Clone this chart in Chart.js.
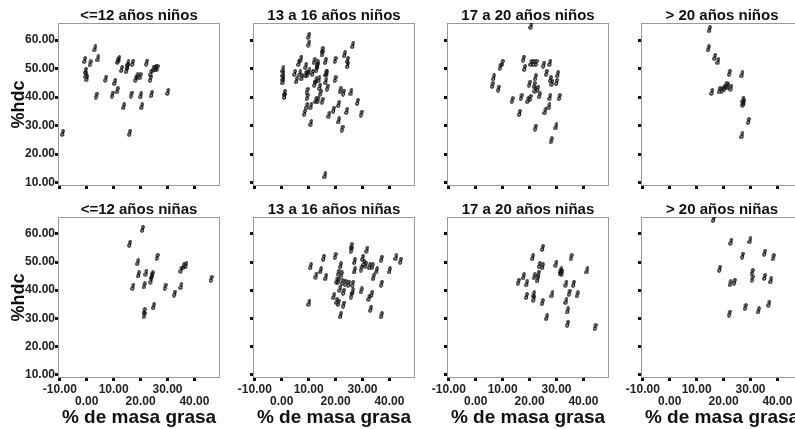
<!DOCTYPE html>
<html lang="es">
<head>
  <meta charset="UTF-8" />
  <title>%hdc vs % de masa grasa</title>
  <script src="https://cdn.jsdelivr.net/npm/chart.js"></script>
  <style>
    body {
      margin: 0;
      width: 795px;
      height: 429px;
      overflow: hidden;
      background: #fff;
      position: relative;
    }
    canvas { position: absolute; }
  </style>
</head>
<body>
  <canvas id="g0"></canvas><canvas id="g1"></canvas><canvas id="g2"></canvas><canvas id="g3"></canvas>
  <canvas id="g4"></canvas><canvas id="g5"></canvas><canvas id="g6"></canvas><canvas id="g7"></canvas>

  <script>
    // titulos de cada panel
    const titulos = [
      '<=12 años niños', '13 a 16 años niños', '17 a 20 años niños', '> 20 años niños',
      '<=12 años niñas', '13 a 16 años niñas', '17 a 20 años niñas', '> 20 años niñas'
    ];
    const ticksX = [-10, 0, 10, 20, 30, 40];
    const ticksY = [10, 20, 30, 40, 50, 60];

    // [% masa grasa, %hdc]
    const ninosHasta12 = [[-9.0,27.4],[3.0,57.1],[4.1,53.6],[-0.8,53.0],[1.2,51.8],[-0.5,49.2],[-0.3,47.8],[0.0,46.6],[3.5,40.5],[7.0,46.5],[10.4,45.3],[9.5,40.9],[11.3,42.4],[11.5,52.7],[11.9,53.3],[12.9,49.8],[14.7,49.4],[15.1,50.8],[15.3,51.8],[17.0,52.0],[13.7,36.8],[15.9,27.5],[16.5,40.9],[18.2,46.5],[18.7,47.3],[19.8,47.3],[20.4,36.8],[20.0,40.6],[22.2,52.1],[23.6,46.4],[23.8,48.5],[24.0,41.0],[24.7,50.0],[25.5,50.1],[26.1,50.2],[30.1,41.8]];
    const ninos13a16 = [[10.0,61.5],[10.0,58.8],[26.3,58.2],[15.0,56.5],[15.0,55.3],[23.3,55.0],[24.4,53.0],[24.4,51.2],[19.8,53.0],[16.2,52.6],[12.0,52.6],[13.2,51.8],[7.1,53.5],[6.3,52.0],[0.4,49.7],[0.4,48.1],[0.4,46.6],[0.4,45.5],[1.0,41.5],[1.0,40.4],[4.8,48.5],[5.4,45.9],[6.7,48.3],[7.4,46.9],[8.9,50.9],[8.9,48.1],[9.4,48.0],[10.1,49.0],[11.4,48.5],[12.8,49.7],[13.2,51.0],[13.8,46.2],[12.2,44.7],[12.7,45.9],[14.1,43.6],[14.3,41.5],[16.3,48.3],[16.7,48.3],[16.3,45.6],[16.9,43.3],[19.8,46.3],[9.4,42.2],[9.4,40.0],[12.6,38.9],[13.4,38.9],[15.0,38.7],[9.3,36.9],[10.8,36.8],[8.4,34.5],[10.8,30.9],[17.5,33.8],[19.2,35.6],[21.1,37.5],[21.7,42.4],[22.9,41.6],[25.7,41.7],[28.1,38.3],[24.1,35.1],[21.1,31.8],[22.4,28.9],[29.5,34.2],[16.0,12.5]];
    const ninos17a20 = [[20.5,65.0],[9.8,52.0],[9.0,50.6],[6.6,46.9],[6.1,44.2],[8.4,43.0],[17.7,53.5],[18.1,50.2],[20.5,52.0],[21.4,52.0],[22.4,52.0],[25.2,51.4],[27.5,52.0],[26.2,48.5],[27.7,46.3],[28.3,45.0],[30.4,48.0],[30.0,45.3],[22.1,46.9],[19.9,44.7],[21.7,44.2],[22.0,42.6],[23.0,43.0],[23.6,40.6],[13.5,38.9],[16.8,40.0],[19.3,38.9],[20.2,39.7],[27.5,40.0],[31.0,40.0],[27.2,36.8],[25.7,35.0],[16.2,34.4],[22.1,29.3],[29.8,29.7],[28.0,24.8]];
    const ninosMas20 = [[14.7,63.8],[14.3,57.1],[16.7,54.1],[17.9,52.6],[22.1,48.5],[26.8,48.0],[15.6,41.8],[18.4,42.4],[19.4,42.6],[20.3,43.3],[20.9,44.2],[21.6,43.8],[22.7,43.3],[27.2,39.1],[27.2,37.7],[27.5,38.2],[29.2,31.6],[26.8,26.6]];
    const ninasHasta12 = [[20.7,61.8],[15.9,56.5],[18.9,49.9],[19.2,45.6],[22.0,46.2],[26.1,51.8],[17.1,41.2],[21.3,41.7],[23.8,43.4],[24.1,45.0],[24.3,45.6],[21.3,32.6],[21.3,31.1],[24.8,34.3],[29.1,41.2],[32.6,38.8],[35.0,41.4],[35.0,47.3],[35.9,48.5],[36.8,48.9],[46.2,44.0]];
    const ninas13a16 = [[25.8,55.6],[25.8,54.4],[31.6,54.4],[15.5,51.5],[19.8,52.1],[10.7,48.5],[14.4,47.0],[12.7,45.2],[16.3,44.6],[21.8,48.8],[21.0,46.2],[22.1,45.6],[20.4,43.4],[21.0,43.4],[22.4,42.9],[23.6,42.6],[24.8,42.3],[26.3,42.3],[21.6,40.5],[22.9,39.4],[26.3,39.6],[25.8,38.1],[27.0,50.3],[27.0,47.0],[29.5,47.7],[30.0,51.5],[30.5,49.7],[31.2,49.1],[32.6,48.5],[33.6,48.5],[35.2,47.0],[37.0,51.2],[34.0,44.6],[37.0,42.3],[40.0,47.0],[42.4,51.7],[44.1,50.5],[29.5,39.9],[33.4,38.7],[32.4,37.3],[33.0,33.4],[37.0,31.1],[19.3,37.9],[20.4,36.1],[21.0,35.5],[22.9,34.9],[21.8,31.1],[10.1,35.5]];
    const ninas17a20 = [[24.8,55.0],[21.1,51.7],[35.4,51.7],[23.6,48.9],[24.8,48.5],[29.8,49.4],[31.6,47.0],[32.0,46.2],[31.4,46.5],[41.3,47.0],[23.3,45.9],[21.7,44.9],[22.9,43.8],[17.7,44.9],[15.8,43.0],[18.9,42.4],[33.5,42.3],[36.3,42.3],[18.8,37.9],[21.5,38.5],[21.5,37.0],[24.7,35.7],[28.3,38.5],[34.7,39.1],[37.7,38.5],[33.5,36.1],[34.1,32.8],[26.3,30.4],[34.1,28.1],[44.3,26.9]];
    const ninasMas20 = [[16.2,65.3],[22.7,57.2],[29.8,57.7],[27.0,52.3],[35.2,53.3],[38.4,51.7],[18.5,47.6],[30.6,46.5],[30.6,44.1],[35.2,44.7],[37.5,43.5],[22.4,42.4],[24.0,43.0],[22.1,31.7],[28.0,34.0],[32.9,32.8],[36.8,35.2]];

    const paneles = [ninosHasta12, ninos13a16, ninos17a20, ninosMas20,
                     ninasHasta12, ninas13a16, ninas17a20, ninasMas20];

    // bordes del area de cada columna (px)
    const colIzq = [58, 253, 447, 641];
    const colDer = [222, 417, 611, 805];

    Chart.defaults.font.family = "'Liberation Sans', Arial, sans-serif";

    // marcador en forma de "8" chiquito
    function marcador() {
      const c = document.createElement('canvas');
      c.width = 5; c.height = 8;
      const ctx = c.getContext('2d');
      ctx.strokeStyle = '#111';
      ctx.lineWidth = 1.3;
      ctx.beginPath(); ctx.ellipse(3.0, 2.2, 1.1, 1.4, 0.4, 0, Math.PI * 2); ctx.stroke();
      ctx.beginPath(); ctx.ellipse(2.2, 5.6, 1.3, 1.5, 0.4, 0, Math.PI * 2); ctx.stroke();
      return c;
    }
    const marca = marcador();

    // caja punteada alrededor del area
    const cajaPunteada = {
      id: 'cajaPunteada',
      beforeDatasetsDraw(chart) {
        const { ctx, chartArea: a } = chart;
        ctx.save();
        ctx.setLineDash([1, 1]);
        ctx.strokeStyle = '#333';
        ctx.lineWidth = 1;
        ctx.strokeRect(a.left + 0.5, a.top + 0.5, a.right - a.left - 1, a.bottom - a.top - 1);
        ctx.restore();
      }
    };

    paneles.forEach((puntos, i) => {
      const fila = i < 4 ? 0 : 1;
      const col = i % 4;
      const cv = document.getElementById('g' + i);
      const margenIzq = col === 0 ? 0 : 22;
      const left = col === 0 ? 0 : colIzq[col] - 3 - margenIzq;
      const top = fila === 0 ? 0 : 200;
      cv.width = colDer[col] + 2 - left;
      cv.height = fila === 0 ? 191 : 229;
      cv.style.left = left + 'px';
      cv.style.top = top + 'px';

      new Chart(cv, {
        type: 'scatter',
        data: {
          datasets: [{
            data: puntos.map(p => ({ x: p[0], y: p[1] })),
            pointStyle: marca,
            pointRadius: 3,
            pointHoverRadius: 3
          }]
        },
        options: {
          responsive: false,
          animation: false,
          devicePixelRatio: 1,
          layout: { padding: { top: fila === 0 ? 8 : 2, right: 2, left: margenIzq, bottom: 0 } },
          plugins: {
            legend: { display: false },
            tooltip: { enabled: false },
            title: {
              display: true,
              text: titulos[i],
              fullSize: false,
              color: '#111',
              padding: 0,
              font: { size: 15, weight: 'bold', lineHeight: 1 }
            }
          },
          scales: {
            x: {
              type: 'linear',
              min: -10.7,
              max: 49.5,
              afterBuildTicks: s => { s.ticks = ticksX.map(v => ({ value: v })); },
              afterFit: s => {
                s.height = fila === 0 ? 5 : 51;
                s.paddingLeft = 0;
                s.paddingRight = 0;
              },
              border: { display: false },
              grid: { drawOnChartArea: false, tickLength: 3, tickWidth: 3, tickColor: '#111' },
              ticks: {
                display: fila === 1,
                autoSkip: false,
                maxRotation: 0,
                padding: 3,
                color: '#222',
                font: { size: 12, weight: 'bold', lineHeight: 1 },
                callback: (v, k) => {
                  const t = Number(v).toFixed(2);
                  return k % 2 === 0 ? [t, ''] : ['', t];
                }
              },
              title: {
                display: fila === 1,
                text: '% de masa grasa',
                color: '#111',
                font: { size: 19, weight: 'bold', lineHeight: 1.2 },
                padding: { top: 0, bottom: 0 }
              }
            },
            y: {
              type: 'linear',
              min: 8.8,
              max: 66,
              afterBuildTicks: s => { s.ticks = ticksY.map(v => ({ value: v })); },
              afterFit: s => {
                s.width = col === 0 ? 58 : 3;
                s.paddingTop = 0;
                s.paddingBottom = 0;
              },
              border: { display: false },
              grid: { drawOnChartArea: false, tickLength: 3, tickWidth: 3, tickColor: '#111' },
              ticks: {
                display: col === 0,
                padding: 0,
                color: '#222',
                font: { size: 12, weight: 'bold' },
                callback: v => Number(v).toFixed(2)
              },
              title: {
                display: col === 0,
                text: '%hdc',
                color: '#111',
                font: { size: 18, weight: 'bold', lineHeight: 1.2 },
                padding: { top: 8, bottom: 0 }
              }
            }
          }
        },
        plugins: [cajaPunteada]
      });
    });
  </script>
</body>
</html>
